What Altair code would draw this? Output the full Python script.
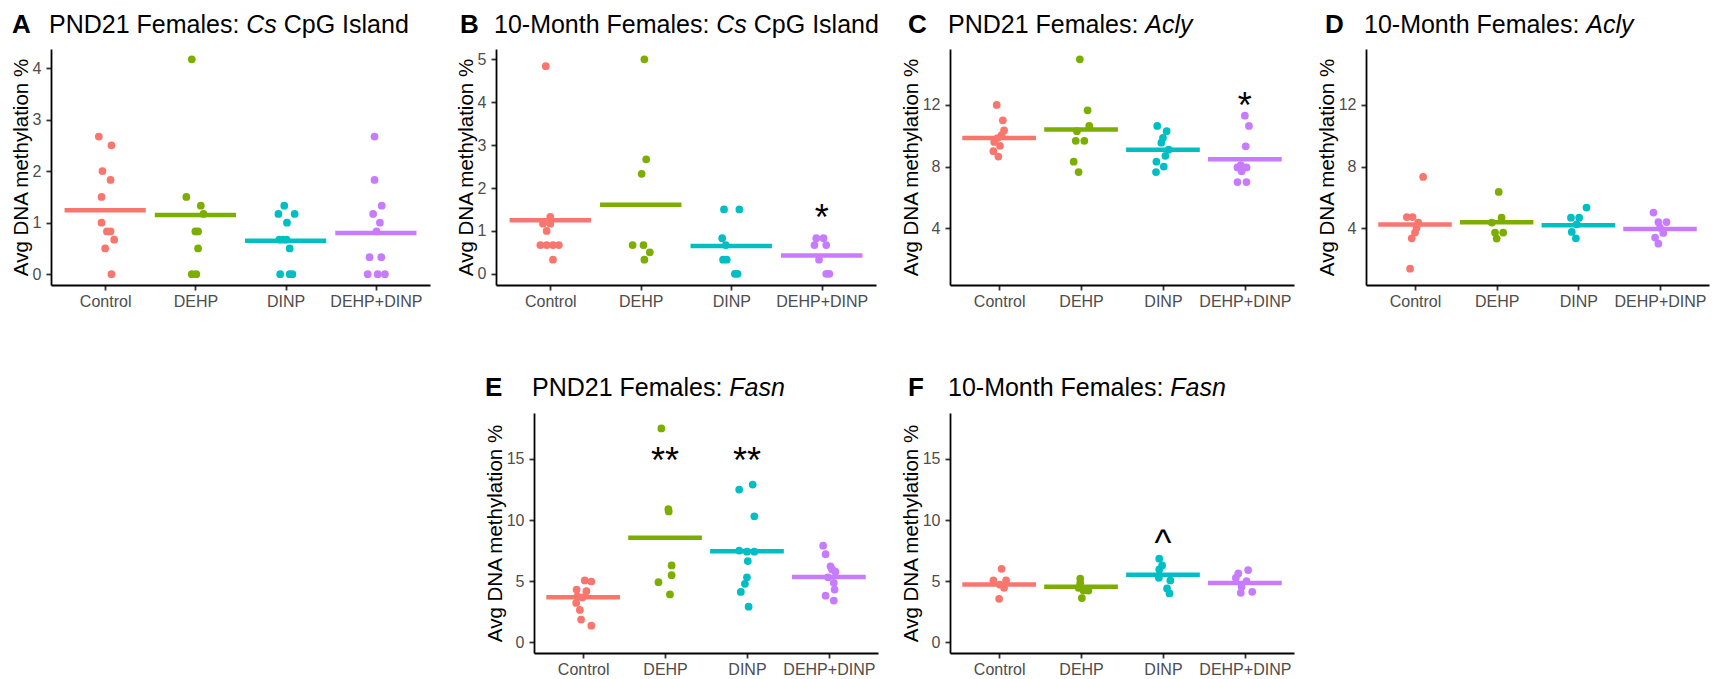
import altair as alt
import pandas as pd

FONT = "Liberation Sans"
GROUPS = ["Control", "DEHP", "DINP", "DEHP+DINP"]
COLORS = ["#F8766D", "#7CAE00", "#00BFC4", "#C77CFF"]
Y_TITLE = "Avg DNA methylation %"

# ---------------- Panel A: PND21 Females, Cs CpG Island ----------------
A_values = {
    "Control": [2.67, 2.50, 2.00, 1.83, 1.50, 1.00, 0.83, 0.83, 0.67, 0.50, 0.00],
    "DEHP": [4.17, 1.50, 1.33, 1.17, 0.83, 0.83, 0.50, 0.00, 0.00],
    "DINP": [1.33, 1.17, 1.17, 1.00, 0.67, 0.67, 0.67, 0.50, 0.00, 0.00, 0.00],
    "DEHP+DINP": [2.67, 1.83, 1.33, 1.17, 1.00, 0.83, 0.33, 0.33, 0.00, 0.00, 0.00],
}
A_jitter = {
    "Control": [-0.07, 0.07, -0.03, 0.06, -0.04, -0.04, 0.02, 0.06, 0.10, 0.00, 0.07],
    "DEHP": [-0.04, -0.10, 0.06, 0.09, 0.00, 0.03, 0.03, -0.04, 0.01],
    "DINP": [-0.015, -0.08, 0.10, 0.015, -0.07, -0.03, 0.01, 0.045, -0.06, 0.045, 0.075],
    "DEHP+DINP": [-0.015, -0.015, 0.065, -0.03, 0.045, 0.007, -0.07, 0.06, -0.09, 0.02, 0.10],
}
A_means = [1.24, 1.15, 0.65, 0.80]
A_annot = []

# ---------------- Panel B: 10-Month Females, Cs CpG Island ----------------
B_values = {
    "Control": [4.84, 1.33, 1.17, 1.17, 1.00, 0.67, 0.67, 0.67, 0.67, 0.33],
    "DEHP": [5.00, 2.67, 2.33, 0.67, 0.67, 0.50, 0.33],
    "DINP": [1.50, 1.50, 0.83, 0.67, 0.33, 0.33, 0.00, 0.00],
    "DEHP+DINP": [0.83, 0.83, 0.67, 0.67, 0.33, 0.00, 0.00],
}
B_jitter = {
    "Control": [-0.05, 0.00, -0.08, 0.00, -0.04, -0.11, -0.04, 0.03, 0.095, 0.03],
    "DEHP": [0.04, 0.06, 0.01, -0.09, 0.03, 0.10, 0.04],
    "DINP": [-0.08, 0.09, -0.10, -0.06, -0.09, -0.05, 0.04, 0.07],
    "DEHP+DINP": [-0.06, 0.02, -0.08, 0.05, -0.03, 0.05, 0.085],
}
B_means = [1.25, 1.61, 0.65, 0.43]
B_annot = [(4, 1.48, "*")]

# ---------------- Panel C: PND21 Females, Acly ----------------
C_values = {
    "Control": [12.00, 11.00, 10.35, 10.05, 9.85, 9.60, 9.35, 9.00, 8.65],
    "DEHP": [14.96, 11.65, 10.64, 10.30, 9.67, 9.67, 8.32, 7.65],
    "DINP": [10.64, 10.30, 9.87, 9.55, 9.10, 8.70, 8.32, 8.00, 7.65],
    "DEHP+DINP": [11.30, 10.64, 9.32, 8.10, 7.95, 7.95, 7.70, 7.00, 7.00],
}
C_jitter = {
    "Control": [-0.03, 0.045, 0.06, 0.03, -0.02, -0.06, 0.01, -0.07, -0.01],
    "DEHP": [-0.015, 0.08, 0.10, -0.05, -0.065, 0.04, -0.09, -0.03],
    "DINP": [-0.07, 0.045, 0.00, -0.02, 0.07, 0.03, -0.08, 0.01, -0.085],
    "DEHP+DINP": [0.00, 0.05, 0.01, -0.05, -0.09, 0.02, -0.04, -0.09, 0.02],
}
C_means = [9.86, 10.40, 9.10, 8.48]
C_annot = [(4, 12.48, "*")]

# ---------------- Panel D: 10-Month Females, Acly ----------------
D_values = {
    "Control": [7.33, 4.73, 4.73, 4.37, 4.04, 3.72, 3.35, 1.38],
    "DEHP": [6.36, 4.69, 4.37, 3.72, 3.72, 3.33],
    "DINP": [5.34, 4.69, 4.69, 4.26, 3.76, 3.35],
    "DEHP+DINP": [5.02, 4.40, 4.40, 4.04, 3.70, 3.40, 3.00],
}
D_jitter = {
    "Control": [0.10, -0.10, -0.03, 0.04, 0.02, 0.00, -0.04, -0.06],
    "DEHP": [0.025, 0.06, -0.06, -0.02, 0.08, 0.00],
    "DINP": [0.10, -0.09, 0.01, -0.02, -0.08, -0.03],
    "DEHP+DINP": [-0.08, -0.02, 0.08, 0.00, 0.04, -0.06, -0.02],
}
D_means = [4.24, 4.39, 4.20, 3.96]
D_annot = []

# ---------------- Panel E: PND21 Females, Fasn ----------------
E_values = {
    "Control": [5.05, 4.96, 4.30, 4.17, 3.75, 3.65, 3.20, 2.63, 1.84, 1.34],
    "DEHP": [17.50, 10.90, 10.70, 6.28, 5.48, 4.90, 3.90],
    "DINP": [12.90, 12.50, 10.30, 7.50, 7.40, 7.40, 6.64, 5.30, 4.77, 4.10, 2.90],
    "DEHP+DINP": [7.90, 7.20, 6.20, 5.95, 5.76, 5.30, 4.85, 4.30, 3.80, 3.40],
}
E_jitter = {
    "Control": [0.02, 0.10, -0.08, 0.04, -0.07, -0.01, -0.085, -0.04, -0.025, 0.10],
    "DEHP": [-0.045, 0.04, 0.045, 0.08, 0.08, -0.08, 0.06],
    "DINP": [0.07, -0.095, 0.09, -0.095, 0.00, 0.09, 0.01, 0.00, -0.025, -0.075, 0.02],
    "DEHP+DINP": [-0.07, -0.04, 0.02, 0.04, 0.08, -0.01, 0.06, 0.07, -0.04, 0.06],
}
E_means = [3.67, 8.55, 7.43, 5.32]
E_annot = [(2, 15.5, "**"), (3, 15.5, "**")]

# ---------------- Panel F: 10-Month Females, Fasn ----------------
F_values = {
    "Control": [6.00, 5.05, 5.05, 4.70, 4.44, 3.54],
    "DEHP": [5.20, 4.85, 4.44, 4.22, 4.22, 3.60],
    "DINP": [6.83, 6.28, 5.95, 5.26, 5.05, 4.39, 3.98],
    "DEHP+DINP": [5.90, 5.62, 5.26, 4.99, 4.52, 4.11, 4.03],
}
F_jitter = {
    "Control": [0.03, -0.07, 0.085, 0.01, 0.06, 0.00],
    "DEHP": [-0.01, -0.01, -0.03, 0.03, 0.09, 0.01],
    "DINP": [-0.045, -0.01, -0.045, -0.05, 0.09, 0.05, 0.08],
    "DEHP+DINP": [0.04, -0.08, -0.11, 0.02, -0.04, 0.09, -0.05],
}
F_means = [4.72, 4.52, 5.51, 4.83]
F_annot = [(3, 8.8, "^")]

# Axis extents and ticks
A_domain, A_ticks = [-0.21, 4.37], [0, 1, 2, 3, 4]
B_domain, B_ticks = [-0.26, 5.24], [0, 1, 2, 3, 4, 5]
CD_domain, CD_ticks = [0.32, 15.63], [4, 8, 12]
EF_domain, EF_ticks = [-0.9, 18.77], [0, 5, 10, 15]

# ---------------- styling helpers ----------------
AW = {' ': 278, 'P': 667, 'N': 722, 'D': 722, '0': 556, '1': 556, '2': 556, '-': 333,
      'M': 833, 'o': 556, 'n': 556, 't': 278, 'h': 556, 'F': 611, 'e': 556, 'm': 833,
      'a': 556, 'l': 222, 's': 500, ':': 278, 'C': 722, 'p': 556, 'G': 778, 'I': 278,
      'd': 556, 'A': 667, 'c': 500, 'y': 500}


def tw(s, size):
    return sum(AW.get(c, 556) for c in s) / 1000.0 * size


TITLE_SIZE = 25
LETTER_SIZE = 26
HALF = 0.45
LABEL_EXPR = "['Control','DEHP','DINP','DEHP+DINP'][datum.value - 1]"


def text_layer(txt, x, y, size, weight="normal", style="normal"):
    return alt.Chart(pd.DataFrame({"t": [txt]})).mark_text(
        align="left", baseline="alphabetic", font=FONT, fontSize=size,
        fontWeight=weight, fontStyle=style, color="black"
    ).encode(x=alt.value(x), y=alt.value(y), text="t:N")


def panel(letter, letter_x, prefix, italic, suffix, title_y,
          values, jitter, means, y_domain, y_ticks, annots, width, height, shift=0):
    rows = []
    for gi, g in enumerate(GROUPS):
        for v, j in zip(values[g], jitter[g]):
            rows.append({"group": g, "pos": gi + 1 + j, "value": v})
    pts = pd.DataFrame(rows)
    mdf = pd.DataFrame({
        "group": GROUPS,
        "lo": [i + 1 - HALF for i in range(4)],
        "hi": [i + 1 + HALF for i in range(4)],
        "mean": means,
    })

    def X(field):
        sc = dict(domain=[0.4, 4.6], nice=False, zero=False)
        if shift:
            sc["range"] = [shift, width]
        return alt.X(field, type="quantitative", scale=alt.Scale(**sc),
                     axis=alt.Axis(values=[1, 2, 3, 4], labelExpr=LABEL_EXPR,
                                   title=None, grid=False))

    def Y(field):
        ax = dict(values=y_ticks, title=Y_TITLE, grid=False)
        if shift:
            ax["offset"] = -shift
        return alt.Y(field, type="quantitative",
                     scale=alt.Scale(domain=y_domain, nice=False, zero=False),
                     axis=alt.Axis(**ax))

    color = alt.Color("group:N", scale=alt.Scale(domain=GROUPS, range=COLORS), legend=None)

    points = alt.Chart(pts).mark_circle(size=60, opacity=1).encode(
        x=X("pos"), y=Y("value"), color=color)
    rules = alt.Chart(mdf).mark_rule(strokeWidth=4.5, strokeCap="butt").encode(
        x=X("lo"), x2="hi", y=Y("mean"), color=color)
    layers = [points, rules]

    if annots:
        adf = pd.DataFrame({"pos": [a[0] for a in annots],
                            "value": [a[1] for a in annots],
                            "label": [a[2] for a in annots]})
        layers.append(alt.Chart(adf).mark_text(
            font=FONT, fontSize=36, color="black", baseline="alphabetic",
            align="center", dy=20).encode(x=X("pos"), y=Y("value"), text="label:N"))

    x0 = shift - 2
    layers.append(text_layer(letter, shift + letter_x, title_y, LETTER_SIZE, weight="bold"))
    layers.append(text_layer(prefix.strip(), x0, title_y, TITLE_SIZE))
    xi = x0 + tw(prefix, TITLE_SIZE)
    layers.append(text_layer(italic, xi, title_y, TITLE_SIZE, style="italic"))
    if suffix:
        xs = xi + tw(italic + " ", TITLE_SIZE)
        layers.append(text_layer(suffix, xs, title_y, TITLE_SIZE))

    return alt.layer(*layers).properties(width=width, height=height)


def spacer(w, h):
    return alt.Chart(pd.DataFrame({"s": [0]})).mark_point(opacity=0).encode(
        x=alt.X("s:Q", axis=None), y=alt.Y("s:Q", axis=None)).properties(width=w, height=h)


TOP_T = -16
pA = panel("A", -39, "PND21 Females: ", "Cs", "CpG Island", TOP_T,
           A_values, A_jitter, A_means, A_domain, A_ticks, A_annot, 379, 236)
pB = panel("B", -36, "10-Month Females: ", "Cs", "CpG Island", TOP_T,
           B_values, B_jitter, B_means, B_domain, B_ticks, B_annot, 380, 236)
pC = panel("C", -42, "PND21 Females: ", "Acly", "", TOP_T,
           C_values, C_jitter, C_means, CD_domain, CD_ticks, C_annot, 344, 236)
pD = panel("D", -41, "10-Month Females: ", "Acly", "", TOP_T,
           D_values, D_jitter, D_means, CD_domain, CD_ticks, D_annot, 343, 236)
# E sits under B, its plot starting 38px further right
pE = panel("E", -49, "PND21 Females: ", "Fasn", "", -17,
           E_values, E_jitter, E_means, EF_domain, EF_ticks, E_annot, 382, 240, shift=38)
pF = panel("F", -42, "10-Month Females: ", "Fasn", "", -17,
           F_values, F_jitter, F_means, EF_domain, EF_ticks, F_annot, 344, 240)

chart = alt.concat(
    pA, spacer(66, 236), pB, spacer(72, 236), pC, spacer(72, 236), pD,
    spacer(2, 240), spacer(2, 240), pE, spacer(2, 240), pF,
    columns=7,
    spacing={"row": 128, "column": 0},
    bounds="flush",
    align="each",
).properties(
    padding={"left": 3, "top": 4, "right": 5, "bottom": 5},
    background="white",
).configure_view(stroke=None).configure_axis(
    domainColor="black", domainWidth=1.8, tickColor="#333333", tickWidth=1.8,
    tickSize=5, labelColor="#4D4D4D", labelFont=FONT, labelFontSize=16,
    titleFont=FONT, titleFontSize=20.5, titleFontWeight="normal", titleColor="black",
).configure_axisX(labelPadding=3).configure_axisY(labelPadding=5, titlePadding=1)

chart.save("out.html", embed_options={"renderer": "svg", "actions": False})
